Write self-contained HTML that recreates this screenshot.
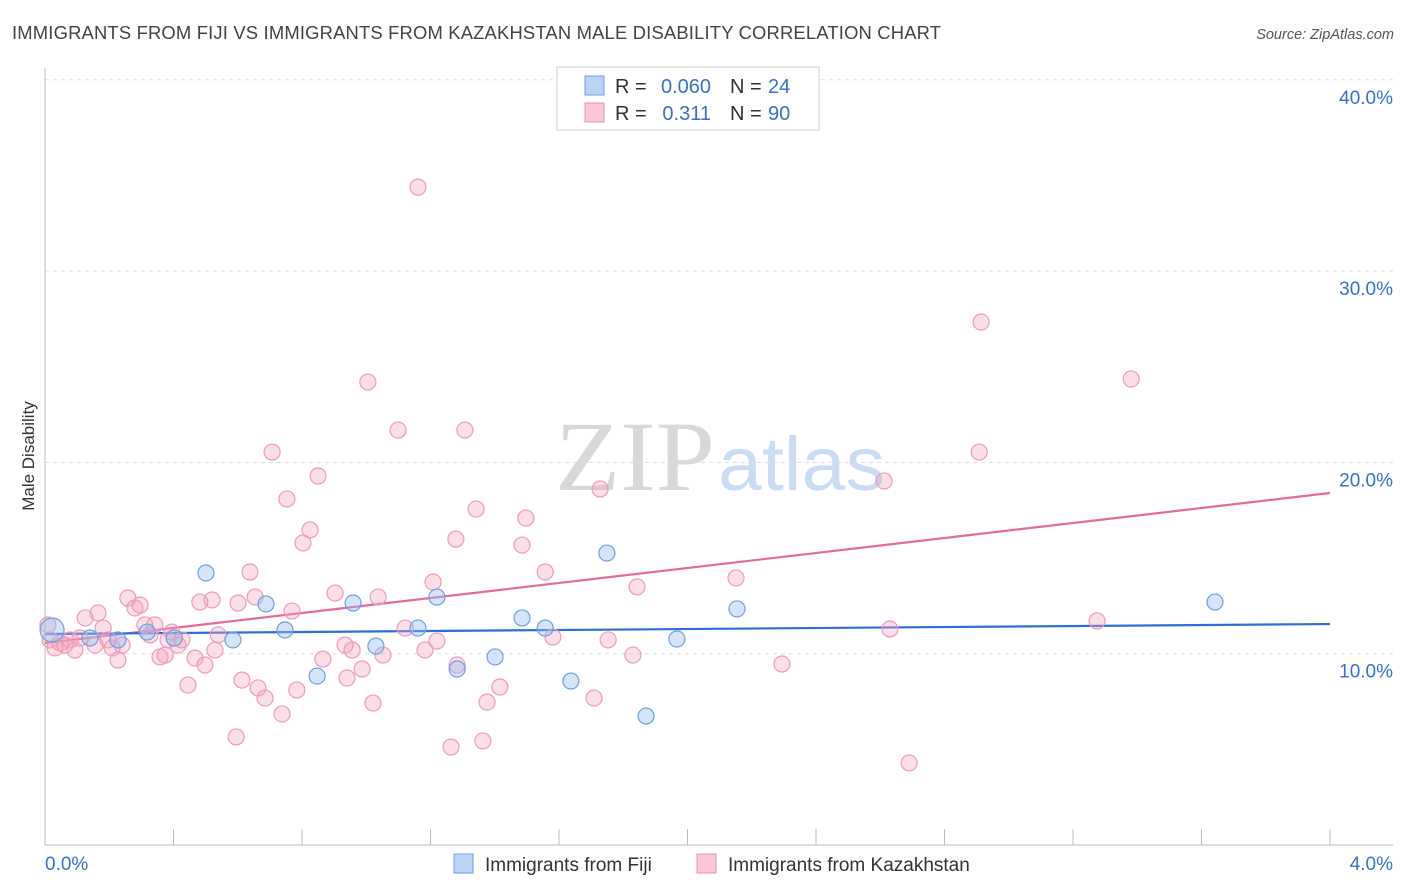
<!DOCTYPE html>
<html><head><meta charset="utf-8"><style>
body{margin:0;background:#fff;font-family:"Liberation Sans",sans-serif;}
svg{display:block}
</style></head><body>
<svg id="chart" width="1406" height="892" xmlns="http://www.w3.org/2000/svg">
<text x="12" y="39" font-size="18.4" fill="#444" textLength="929">IMMIGRANTS FROM FIJI VS IMMIGRANTS FROM KAZAKHSTAN MALE DISABILITY CORRELATION CHART</text>
<text x="1394" y="39" font-size="14.5" fill="#555" font-style="italic" text-anchor="end">Source: ZipAtlas.com</text>
<g>
<text x="555" y="490" font-size="100" fill="#d8d8d8" font-family="Liberation Serif,serif" textLength="160" lengthAdjust="spacingAndGlyphs">ZIP</text>
<text x="718" y="490" font-size="76" fill="#c9dcf3" textLength="167" lengthAdjust="spacingAndGlyphs">atlas</text>
</g>
<g id="grid"></g>
<g id="axes"></g>
<text transform="translate(34,456) rotate(-90)" font-size="17" fill="#333" text-anchor="middle">Male Disability</text>
<g id="trend"></g>
<g id="points"></g>
<g>
<rect x="557" y="67" width="262" height="63" fill="#fff" stroke="#ccc"/>
<rect x="585" y="76" width="19" height="19" fill="#b9d3f5" stroke="#6f9fdc"/>
<rect x="585" y="103" width="19" height="19" fill="#f9c7d6" stroke="#e890ae"/>
<text x="615" y="93" font-size="20" fill="#333">R =</text>
<text x="711" y="93" font-size="20" fill="#3a6fd0" text-anchor="end">0.060</text>
<text x="730" y="93" font-size="20" fill="#333">N =</text>
<text x="768" y="93" font-size="20" fill="#3a6fd0">24</text>
<text x="615" y="120" font-size="20" fill="#333">R =</text>
<text x="711" y="120" font-size="20" fill="#3a6fd0" text-anchor="end">0.311</text>
<text x="730" y="120" font-size="20" fill="#333">N =</text>
<text x="768" y="120" font-size="20" fill="#3a6fd0">90</text>
</g>
<g>
<rect x="454" y="854" width="19" height="19" fill="#b9d3f5" stroke="#6f9fdc"/>
<text x="485" y="871" font-size="19" fill="#333">Immigrants from Fiji</text>
<rect x="697" y="854" width="19" height="19" fill="#f9c7d6" stroke="#e890ae"/>
<text x="728" y="871" font-size="19" fill="#333">Immigrants from Kazakhstan</text>
</g>
</svg>
<script>
const yTicks=[10,20,30,40];
const yTickLabels=["10.0%","20.0%","30.0%","40.0%"];
const xTickCount=10;
const xLabels=["0.0%","4.0%"];
const fijiX=[0.022,0.140,0.227,0.318,0.402,0.501,0.585,0.688,0.747,0.847,0.959,1.030,1.161,1.220,1.283,1.401,1.485,1.557,1.637,1.749,1.871,1.967,2.154,3.642];
const fijiY=[11.24,10.82,10.72,11.13,10.82,14.22,10.72,12.60,11.24,8.83,12.65,10.40,11.34,12.96,9.20,9.83,11.87,11.34,8.57,15.26,6.74,10.77,12.34,12.70];
const kazX=[0.009,0.016,0.031,0.047,0.062,0.078,0.093,0.109,0.125,0.156,0.165,0.181,0.196,0.209,0.227,0.240,0.258,0.280,0.296,0.311,0.327,0.342,0.358,0.374,0.383,0.395,0.414,0.426,0.445,0.467,0.482,0.498,0.520,0.529,0.539,0.595,0.601,0.613,0.638,0.654,0.663,0.685,0.707,0.738,0.753,0.769,0.784,0.803,0.825,0.850,0.865,0.903,0.934,0.940,0.956,0.987,1.005,1.021,1.037,1.052,1.099,1.121,1.161,1.183,1.208,1.220,1.264,1.279,1.283,1.307,1.342,1.363,1.376,1.416,1.485,1.497,1.557,1.581,1.709,1.728,1.753,1.830,1.843,2.151,2.294,2.612,2.630,2.690,2.908,2.914,3.275,3.381];
const kazY=[11.50,10.72,10.30,10.56,10.45,10.72,10.19,10.82,11.87,10.45,12.13,11.34,10.72,10.30,9.67,10.45,12.91,12.39,12.54,11.50,10.98,11.50,9.83,9.93,10.72,11.13,10.45,10.72,8.36,9.77,12.70,9.41,12.81,10.19,10.98,5.65,12.65,8.62,14.27,12.96,8.21,7.68,20.54,6.85,18.09,12.23,8.10,15.79,16.47,19.29,9.72,13.17,10.45,8.73,10.19,9.20,24.20,7.42,12.96,9.93,21.69,11.34,34.39,10.19,13.75,10.66,5.12,15.99,9.41,21.69,17.56,5.44,7.47,8.26,15.68,17.09,14.27,10.87,7.68,18.61,10.72,9.93,13.49,13.96,9.46,19.03,11.29,4.29,20.54,27.34,11.71,24.36];
const fijiTrend=[11.03,11.55];
const kazTrend=[10.56,18.40];
const NS="http://www.w3.org/2000/svg";
const X0=45,X1=1330,Y0=845,PPU=19.13;
const sx=v=>X0+(v/4)*(X1-X0);
const sy=v=>Y0-v*PPU;
function mk(tag,attrs,parent){const e=document.createElementNS(NS,tag);for(const k in attrs)e.setAttribute(k,attrs[k]);parent.appendChild(e);return e;}
const grid=document.getElementById('grid'),axes=document.getElementById('axes');
yTicks.forEach((t,i)=>{
  const l=mk('line',{x1:X0,x2:1393,y1:sy(t),y2:sy(t),stroke:'#ddd','stroke-dasharray':'4,4'},grid);
  
  
  const tx=mk('text',{x:1393,y:sy(t)+24,'font-size':19,fill:'#3a6fd0','text-anchor':'end'},axes);
  tx.textContent=yTickLabels[i];
  
  
});
mk('line',{x1:X0,x2:X0,y1:68,y2:Y0,stroke:'#bbb'},axes);
mk('line',{x1:X0,x2:1393,y1:Y0,y2:Y0,stroke:'#bbb'},axes);
for(let i=0;i<=xTickCount;i++){
  const x=sx(4*i/xTickCount);
  const t=mk('line',{x1:x,x2:x,y1:Y0-16,y2:Y0,stroke:'#bbb'},axes);
  
  
}
const l0=mk('text',{x:45,y:870,'font-size':19,fill:'#3a6fd0'},axes);l0.textContent=xLabels[0];


const l1=mk('text',{x:1393,y:870,'font-size':19,fill:'#3a6fd0','text-anchor':'end'},axes);l1.textContent=xLabels[1];


const pts=document.getElementById('points');
kazX.forEach((x,i)=>{
  const c=mk('circle',{cx:sx(x),cy:sy(kazY[i]),r:8,fill:'rgba(244,160,190,0.35)',stroke:'#ea9cb8','stroke-width':1.2},pts);
  
  
});
fijiX.forEach((x,i)=>{
  const c=mk('circle',{cx:sx(x),cy:sy(fijiY[i]),r:i===0?12:8,fill:'rgba(150,190,240,0.4)',stroke:'#6f9fdc','stroke-width':1.2},pts);
  
  
});
const tr=document.getElementById('trend');
const t1=mk('line',{x1:sx(0),y1:sy(kazTrend[0]),x2:sx(4),y2:sy(kazTrend[1]),stroke:'#e56b98','stroke-width':2.2},tr);


const t2=mk('line',{x1:sx(0),y1:sy(fijiTrend[0]),x2:sx(4),y2:sy(fijiTrend[1]),stroke:'#2d6fd6','stroke-width':2.2},tr);


</script>
</body></html>
